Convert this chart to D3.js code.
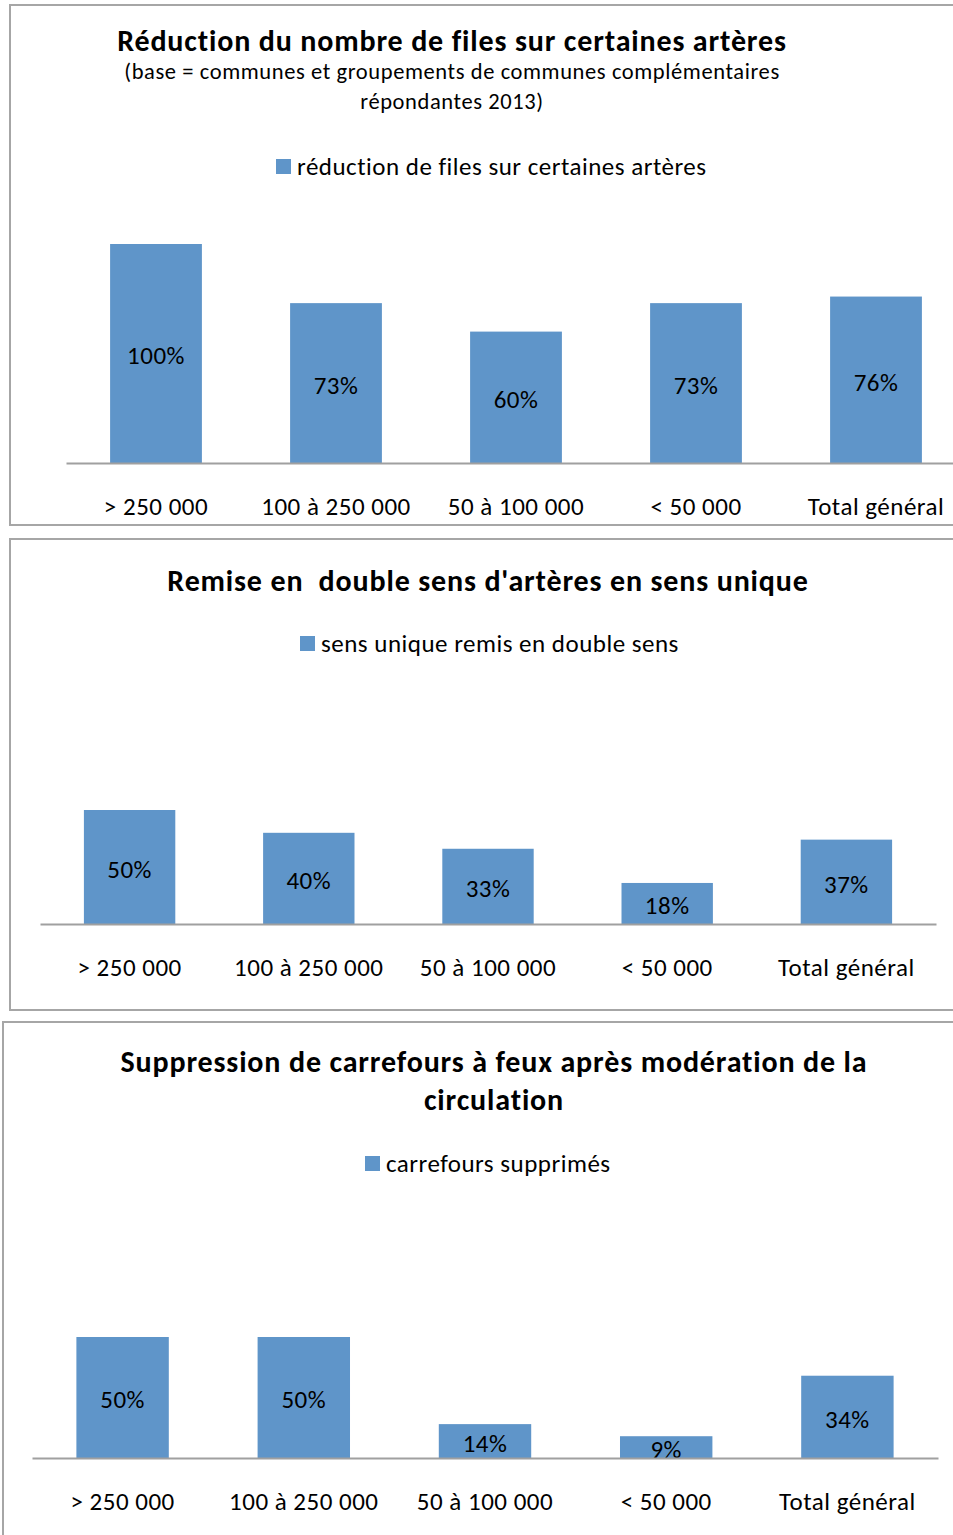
<!DOCTYPE html>
<html>
<head>
<meta charset="utf-8">
<script src="https://cdn.jsdelivr.net/npm/d3@7"></script>
<style>
  body { margin: 0; background: #fff; }
  svg { display: block; font-family: Carlito, Calibri, Lato, sans-serif; }
  svg text { white-space: pre; }
</style>
</head>
<body>
<script>
var categories = ["> 250 000", "100 à 250 000", "50 à 100 000", "< 50 000", "Total général"];
var filesValues = [1.00, 0.73, 0.60, 0.73, 0.76];
var doubleSensValues = [0.50, 0.40, 0.33, 0.18, 0.37];
var carrefoursValues = [0.50, 0.50, 0.14, 0.09, 0.34];

var barColor = "#5f95c9";

var panels = [
  { values: filesValues, legend: "réduction de files sur certaines artères",
    box: [10, 5, 960, 520], titleX: 452,
    title: [{ t: "Réduction du nombre de files sur certaines artères", y: 40, bold: true },
            { t: "(base = communes et groupements de communes complémentaires", y: 71 },
            { t: "répondantes 2013)", y: 101 }],
    legendX: 276, legendY: 166,
    x0: 66, x1: 966, base: 463, full: 219, catY: 506 },
  { values: doubleSensValues, legend: "sens unique remis en double sens",
    box: [10, 539, 960, 471], titleX: 488,
    title: [{ t: "Remise en  double sens d'artères en sens unique", y: 580, bold: true }],
    legendX: 300, legendY: 643,
    x0: 40, x1: 936, base: 924, full: 228, catY: 967 },
  { values: carrefoursValues, legend: "carrefours supprimés",
    box: [3, 1022, 970, 530], titleX: 494,
    title: [{ t: "Suppression de carrefours à feux après modération de la", y: 1061, bold: true },
            { t: "circulation", y: 1099, bold: true }],
    legendX: 365, legendY: 1163,
    x0: 32, x1: 938, base: 1458, full: 242, catY: 1501 }
];

var svg = d3.select("body").append("svg")
  .attr("width", 953)
  .attr("height", 1535);

panels.forEach(function(p) {
  var g = svg.append("g");

  g.append("rect")
    .attr("x", p.box[0]).attr("y", p.box[1])
    .attr("width", p.box[2]).attr("height", p.box[3])
    .attr("fill", "#fff")
    .attr("stroke", "#a6a6a6")
    .attr("stroke-width", 2);

  g.selectAll("text.title").data(p.title).enter().append("text")
    .attr("class", "title")
    .attr("x", p.titleX)
    .attr("y", function(d) { return d.y; })
    .attr("dy", "0.35em")
    .attr("text-anchor", "middle")
    .style("font-size", function(d) { return d.bold ? "30px" : "22.5px"; })
    .style("letter-spacing", function(d) { return d.bold ? "0.85px" : "0.6px"; })
    .style("font-weight", function(d) { return d.bold ? "bold" : "normal"; })
    .text(function(d) { return d.t; });

  // legend
  g.append("rect")
    .attr("x", p.legendX).attr("y", p.legendY - 7)
    .attr("width", 15).attr("height", 15)
    .attr("fill", barColor);
  g.append("text")
    .attr("x", p.legendX + 21).attr("y", p.legendY)
    .attr("dy", "0.35em")
    .style("font-size", "25px")
    .style("letter-spacing", "0.5px")
    .text(p.legend);

  var x = d3.scaleBand()
    .domain(categories)
    .range([p.x0, p.x1])
    .paddingInner(0.49)
    .paddingOuter(0.245);

  var y = d3.scaleLinear()
    .domain([0, 1])
    .range([p.base, p.base - p.full]);

  var data = categories.map(function(c, i) { return { cat: c, v: p.values[i] }; });

  g.selectAll("rect.bar").data(data).enter().append("rect")
    .attr("class", "bar")
    .attr("x", function(d) { return x(d.cat); })
    .attr("y", function(d) { return y(d.v); })
    .attr("width", x.bandwidth())
    .attr("height", function(d) { return y(0) - y(d.v); })
    .attr("fill", barColor);

  g.selectAll("text.val").data(data).enter().append("text")
    .attr("class", "val")
    .attr("x", function(d) { return x(d.cat) + x.bandwidth() / 2; })
    .attr("y", function(d) { return (y(d.v) + y(0)) / 2 + 2; })
    .attr("dy", "0.35em")
    .attr("text-anchor", "middle")
    .style("font-size", "25px")
    .style("letter-spacing", "0.5px")
    .text(function(d) { return Math.round(d.v * 100) + "%"; });

  var axis = d3.axisBottom(x).tickSize(0).tickPadding(0);
  var ax = g.append("g")
    .attr("transform", "translate(0," + p.base + ")")
    .call(axis);
  ax.select(".domain")
    .attr("stroke", "#a0a0a0")
    .attr("stroke-width", 2);
  ax.selectAll(".tick text")
    .attr("y", p.catY - p.base)
    .attr("dy", "0.35em")
    .style("font-size", "25px")
    .style("letter-spacing", "0.5px")
    .style("font-family", "Carlito, Calibri, Lato, sans-serif")
    .attr("fill", "#000");
});
</script>
</body>
</html>
